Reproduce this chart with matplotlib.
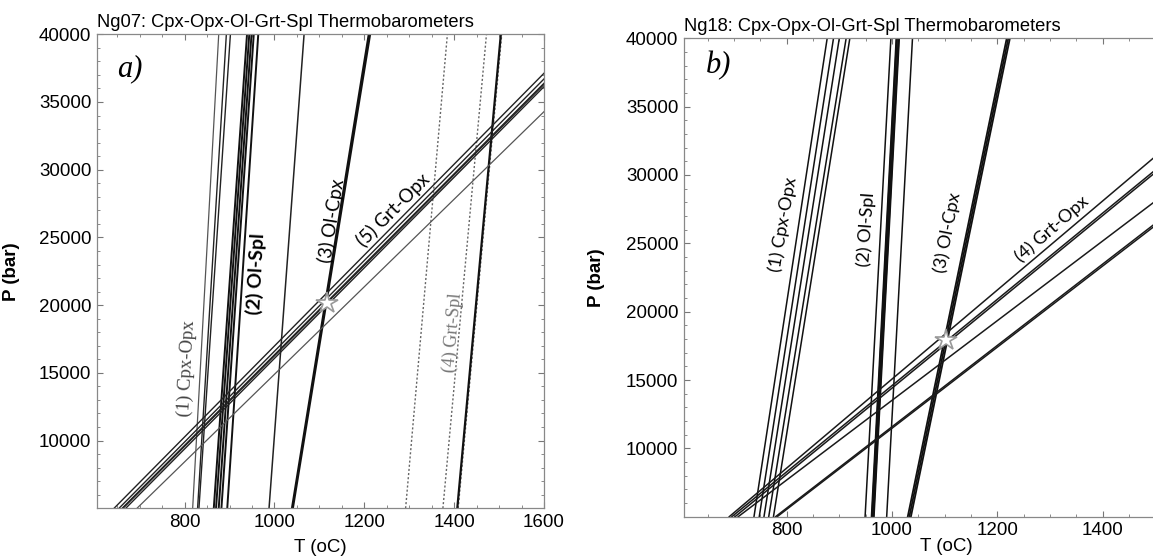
import numpy as np
import matplotlib
matplotlib.use("Agg")
from matplotlib import pyplot as plt
from matplotlib.ticker import MultipleLocator

plt.rcParams['font.family'] = ['Liberation Sans', 'DejaVu Sans']

# pressure window used for the steep thermometer lines (bar)
P_ENDS = [5000, 40000]

# ---------------- Ng07 ----------------
# thermometers: T (oC) at 5000 bar and at 40000 bar
ng07_cpx_opx_lo = [818, 829, 832]
ng07_cpx_opx_hi = [876, 893, 902]
ng07_ol_spl_lo = [865, 870, 876, 882, 895]
ng07_ol_spl_hi = [939, 944, 949, 954, 964]
ng07_extra_lo = [988]
ng07_extra_hi = [1066]
ng07_ol_cpx_lo = [1039, 1041]
ng07_ol_cpx_hi = [1210, 1213]
ng07_grt_spl_lo = [1292, 1375, 1409]
ng07_grt_spl_hi = [1385, 1472, 1506]
ng07_grt_spl_solid_lo = [1407]
ng07_grt_spl_solid_hi = [1504]
# barometer: T at 5000 bar, P (bar) at 1600 oC
ng07_grt_opx_t = [643, 654, 661, 663, 669, 694]
ng07_grt_opx_p = [37120, 36700, 36382, 36300, 36131, 34285]
ng07_star = (1118, 20170)

# ---------------- Ng18 ----------------
ng18_cpx_opx_lo = [738, 748, 757, 766, 775]
ng18_cpx_opx_hi = [877, 889, 900, 913, 920]
ng18_ol_spl_lo = [949, 962, 965, 990]
ng18_ol_spl_hi = [998, 1009, 1013, 1039]
ng18_ol_cpx_lo = [1030, 1033, 1036]
ng18_ol_cpx_hi = [1218, 1221, 1224]
# barometer: T at 5000 bar, P (bar) at 1500 oC
ng18_grt_opx_t = [691, 696, 702, 708, 779, 782]
ng18_grt_opx_p = [31350, 30360, 30180, 28080, 26450, 26300]
ng18_star = (1102, 17900)

T_TICKS = [800, 1000, 1200, 1400, 1600]
P_TICKS = [10000, 15000, 20000, 25000, 30000, 35000, 40000]


def steep(ax, lo, hi, **kw):
    for a, b in zip(lo, hi):
        ax.plot([a, b], P_ENDS, **kw)


def baro(ax, t0, p1, t1, **kw):
    for a, b in zip(t0, p1):
        s = (b - P_ENDS[0]) / (t1 - a)
        tt = np.array([a, 1700])
        ax.plot(tt, P_ENDS[0] + s * (tt - a), **kw)


def frame(ax, xt, xpad):
    ax.set_xlim(605, 1600)
    ax.set_ylim(5000, 40000)
    ax.xaxis.set_minor_locator(MultipleLocator(50))
    ax.yaxis.set_minor_locator(MultipleLocator(1000))
    ax.set_xticks(xt)
    ax.set_yticks(P_TICKS)
    ax.tick_params(which='both', direction='in', top=True, right=True,
                   color='#777777', labelsize=13.5, pad=4)
    ax.tick_params(which='major', length=4, width=0.8)
    ax.tick_params(which='minor', length=2.5, width=0.6)
    for sp in ax.spines.values():
        sp.set_color('#888888')
        sp.set_linewidth(0.9)
    ax.set_xlabel('T (oC)', fontsize=13.5, labelpad=xpad)
    ax.set_ylabel('P (bar)', fontsize=13.5, fontweight='bold')


fig = plt.figure(figsize=(11.53, 5.59), dpi=100)

# ---- panel a
ax1 = fig.add_axes([0.0841, 0.0907, 0.3877, 0.848])
frame(ax1, T_TICKS, 6)
steep(ax1, ng07_cpx_opx_lo[:1], ng07_cpx_opx_hi[:1], color='#555555', lw=0.9)
steep(ax1, ng07_cpx_opx_lo[1:], ng07_cpx_opx_hi[1:], color='#222222', lw=1.0)
steep(ax1, ng07_ol_spl_lo, ng07_ol_spl_hi, color='#111111', lw=1.4)
steep(ax1, ng07_extra_lo, ng07_extra_hi, color='#222222', lw=1.1)
steep(ax1, ng07_ol_cpx_lo, ng07_ol_cpx_hi, color='#111111', lw=1.5)
steep(ax1, ng07_grt_spl_lo, ng07_grt_spl_hi, color='#666666', lw=1.0, ls=(0, (1.5, 1.5)))
steep(ax1, ng07_grt_spl_solid_lo, ng07_grt_spl_solid_hi, color='#111111', lw=1.6)
baro(ax1, ng07_grt_opx_t[:-1], ng07_grt_opx_p[:-1], 1600, color='#222222', lw=1.0)
baro(ax1, ng07_grt_opx_t[-1:], ng07_grt_opx_p[-1:], 1600, color='#555555', lw=0.9)
ax1.plot(*ng07_star, marker='*', ms=16, mfc='white', mec='#999999', mew=1.2)

ax1.text(806, 15360, '(1) Cpx-Opx', family='Liberation Serif', fontsize=13.5,
         color='#444444', rotation=87, ha='center', va='center')
ax1.text(959, 22300, '(2) Ol-Spl', family='Lato', fontsize=14, fontweight='bold',
         rotation=87, ha='center', va='center')
ax1.text(1127, 26250, '(3) Ol-Cpx', family='Lato', fontsize=13.5,
         rotation=81, ha='center', va='center')
ax1.text(1397, 18000, '(4) Grt-Spl', family='Liberation Serif', fontsize=13,
         color='#777777', rotation=85, ha='center', va='center')
ax1.text(1264, 27034, '(5) Grt-Opx', family='Lato', fontsize=13.5,
         rotation=45, ha='center', va='center')
ax1.text(678, 37450, 'a)', family='Liberation Serif', style='italic', fontsize=22,
         ha='center', va='center')
ax1.set_title('Ng07: Cpx-Opx-Ol-Grt-Spl Thermobarometers', loc='left',
              fontsize=13.2, pad=5)
ax1.yaxis.set_label_coords(-0.172, 0.5)

# ---- panel b (runs past the right edge of the figure)
ax2 = fig.add_axes([0.5932, 0.0757, 0.4544, 0.8558])
frame(ax2, T_TICKS[:-1], -1)
steep(ax2, ng18_cpx_opx_lo, ng18_cpx_opx_hi, color='#111111', lw=1.1)
steep(ax2, ng18_ol_spl_lo, ng18_ol_spl_hi, color='#111111', lw=1.1)
steep(ax2, ng18_ol_spl_lo[1:3], ng18_ol_spl_hi[1:3], color='#111111', lw=1.8)
steep(ax2, ng18_ol_cpx_lo, ng18_ol_cpx_hi, color='#111111', lw=1.3)
baro(ax2, ng18_grt_opx_t, ng18_grt_opx_p, 1500, color='#1a1a1a', lw=1.1)
ax2.plot(*ng18_star, marker='*', ms=16, mfc='white', mec='#999999', mew=1.2)

ax2.text(793, 26414, '(1) Cpx-Opx', family='Lato', fontsize=13,
         rotation=80, ha='center', va='center')
ax2.text(951, 26042, '(2) Ol-Spl', family='Lato', fontsize=13,
         rotation=86, ha='center', va='center')
ax2.text(1105, 25800, '(3) Ol-Cpx', family='Lato', fontsize=13,
         rotation=79, ha='center', va='center')
ax2.text(1304, 26042, '(4) Grt-Opx', family='Lato', fontsize=13,
         rotation=41, ha='center', va='center')
ax2.text(670, 38016, 'b)', family='Liberation Serif', style='italic', fontsize=22,
         ha='center', va='center')
ax2.set_title('Ng18: Cpx-Opx-Ol-Grt-Spl Thermobarometers', loc='left',
              fontsize=13.2, pad=5)
ax2.yaxis.set_label_coords(-0.151, 0.5)

fig.savefig('out.png', dpi=100)
